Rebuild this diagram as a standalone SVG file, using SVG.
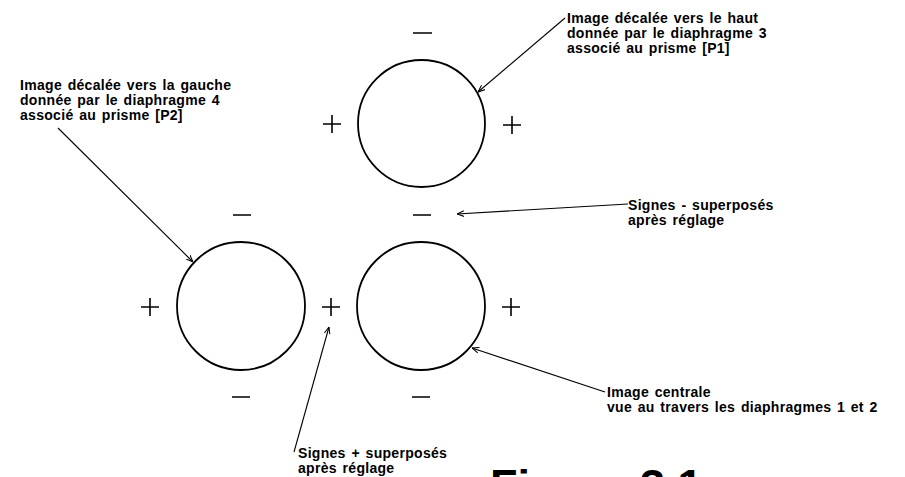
<svg xmlns="http://www.w3.org/2000/svg" width="905" height="477" viewBox="0 0 905 477">
<style>
.c{fill:none;stroke:#000;stroke-width:1.8}
.s{stroke:#000;stroke-width:1.6;fill:none}
.l{stroke:#000;stroke-width:1.1;fill:none;marker-end:url(#ah)}
.t{font-family:"Liberation Sans",Arial,sans-serif;font-weight:bold;font-size:14px;letter-spacing:0.3px;word-spacing:1.5px;fill:#000}
.fig{font-family:"Liberation Sans",Arial,sans-serif;font-weight:bold;font-size:45px;fill:#000}
</style>
<defs>
<marker id="ah" viewBox="0 0 10 10" refX="10" refY="5" markerWidth="7" markerHeight="7" orient="auto" markerUnits="userSpaceOnUse">
<path d="M0,1 L10,5 L0,9" fill="none" stroke="#000" stroke-width="1.5"/>
</marker>
</defs>
<rect width="905" height="477" fill="#fff"/>
<g id="top">
<circle class="c" cx="421.5" cy="123.5" r="63.5"/>
<path class="s" d="M413,33 H432 M323,124 H341 M332,115 V133 M503,125 H521 M512,116 V134"/>
</g>
<g id="left">
<circle class="c" cx="241" cy="306" r="64"/>
<path class="s" d="M233,215 H251 M232,397 H250 M141,307 H159 M150,298 V316"/>
</g>
<g id="right">
<circle class="c" cx="421" cy="306" r="64"/>
<path class="s" d="M413,215 H431 M412,397 H430 M502,307 H520 M511,298 V316"/>
</g>
<g id="middle-plus">
<path class="s" d="M322,307 H340 M331,298 V316"/>
</g>
<g id="connectors">
<path class="l" d="M565,18 L478,92"/>
<path class="l" d="M58,128 L193,262"/>
<path class="l" d="M628,204 L457,214"/>
<path class="l" d="M605,392 L472,348"/>
<path class="l" d="M294,452 L329,327"/>
</g>
<g id="label-top">
<text class="t" x="567" y="23">Image décalée vers le haut</text>
<text class="t" x="567" y="38">donnée par le diaphragme 3</text>
<text class="t" x="567" y="53">associé au prisme [P1]</text>
</g>
<g id="label-left">
<text class="t" x="20" y="90">Image décalée vers la gauche</text>
<text class="t" x="20" y="105">donnée par le diaphragme 4</text>
<text class="t" x="20" y="120">associé au prisme [P2]</text>
</g>
<g id="label-minus">
<text class="t" x="628" y="210">Signes - superposés</text>
<text class="t" x="628" y="225">après réglage</text>
</g>
<g id="label-center">
<text class="t" x="607" y="397">Image centrale</text>
<text class="t" x="607" y="412">vue au travers les diaphragmes 1 et 2</text>
</g>
<g id="label-plus">
<text class="t" x="298" y="458">Signes + superposés</text>
<text class="t" x="298" y="473">après réglage</text>
</g>
<text class="fig" x="490" y="501">Figure 3.1</text>
</svg>
